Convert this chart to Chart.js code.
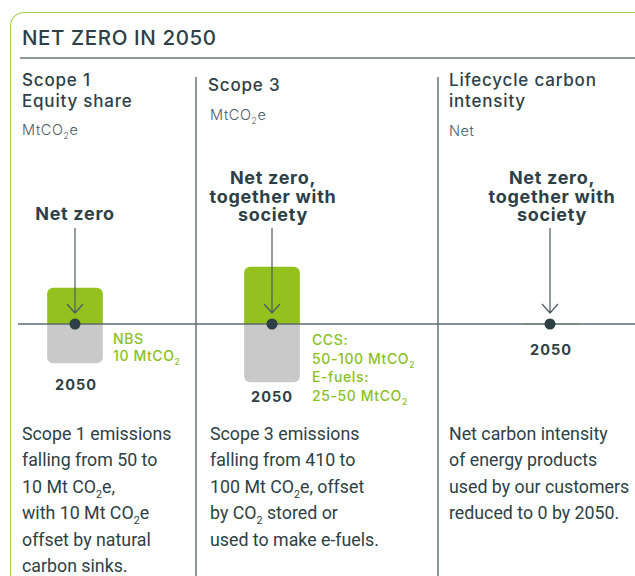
<!DOCTYPE html>
<html>
<head>
<meta charset="utf-8">
<script src="https://cdn.jsdelivr.net/npm/chart.js@4/dist/chart.umd.min.js"></script>
<style>
  html, body { margin: 0; padding: 0; background: #fff; }
  body { width: 635px; height: 576px; position: relative; overflow: hidden; color: #2e3f45; }
  .abs { position: absolute; white-space: nowrap; }
  .frame { left: 10px; top: 12px; width: 700px; height: 700px; border-top: 1.5px solid #a9cf4c; border-left: 1.5px solid #a9cf4c; border-top-left-radius: 14px; }
  .title { left: 22px; top: 27px; font: 500 20.5px/22px Inter, sans-serif; letter-spacing: 0.6px; }
  .rule { left: 20px; top: 57px; width: 620px; height: 1.5px; background: #8d9699; }
  .divider { top: 77px; width: 1.5px; height: 510px; background: #8d9699; }
  .head { font: 500 17px/21px Inter, sans-serif; letter-spacing: 0.8px; }
  .unit { font: 300 14.5px/18px Inter, sans-serif; color: #4a5a60; letter-spacing: 0.6px; }
  .unit sub, .desc sub, .note sub { font-size: 0.6em; line-height: 0; }
  .label { font: 700 18px/18.5px Inter, sans-serif; letter-spacing: 0.7px; text-align: center; transform: translateX(-50%); }
  .year { font: 700 14.5px/18px Inter, sans-serif; letter-spacing: 1px; transform: translateX(-50%); }
  .note { font: 500 14px/18.7px Inter, sans-serif; letter-spacing: 0.6px; color: #8cbf1f; }
  .desc { font: 400 17.8px/26.4px Roboto, sans-serif; }
  canvas { position: absolute; top: 140px; }
</style>
</head>
<body>
<div class="abs frame"></div>
<div class="abs title">NET ZERO IN 2050</div>
<div class="abs rule"></div>
<div class="abs divider" style="left:195px"></div>
<div class="abs divider" style="left:437px"></div>

<div class="abs head" style="left:22px;top:70px">Scope 1<br>Equity share</div>
<div class="abs unit" style="left:22px;top:121px">MtCO<sub>2</sub>e</div>
<div class="abs head" style="left:208px;top:75px">Scope 3</div>
<div class="abs unit" style="left:210px;top:106px">MtCO<sub>2</sub>e</div>
<div class="abs head" style="left:449px;top:70px">Lifecycle carbon<br>intensity</div>
<div class="abs unit" style="left:449px;top:122px">Net</div>

<div class="abs label" style="left:75px;top:205px">Net zero</div>
<div class="abs label" style="left:273px;top:169px">Net zero,<br>together with<br>society</div>
<div class="abs label" style="left:552px;top:169px">Net zero,<br>together with<br>society</div>

<div class="abs year" style="left:76px;top:376px">2050</div>
<div class="abs year" style="left:272px;top:388px">2050</div>
<div class="abs year" style="left:551px;top:341px">2050</div>

<div class="abs note" style="left:113px;top:331px;line-height:16.5px">NBS<br>10 MtCO<sub>2</sub></div>
<div class="abs note" style="left:312px;top:331px">CCS:<br>50-100 MtCO<sub>2</sub><br>E-fuels:<br>25-50 MtCO<sub>2</sub></div>

<div class="abs desc" style="left:22px;top:421px">Scope 1 emissions<br>falling from 50 to<br>10 Mt CO<sub>2</sub>e,<br>with 10 Mt CO<sub>2</sub>e<br>offset by natural<br>carbon sinks.</div>
<div class="abs desc" style="left:210px;top:421px">Scope 3 emissions<br>falling from 410 to<br>100 Mt CO<sub>2</sub>e, offset<br>by CO<sub>2</sub> stored or<br>used to make e-fuels.</div>
<div class="abs desc" style="left:449px;top:421px">Net carbon intensity<br>of energy products<br>used by our customers<br>reduced to 0 by 2050.</div>

<canvas id="c0" width="177" height="270" style="left:18px"></canvas>
<canvas id="c1" width="242" height="270" style="left:195px"></canvas>
<canvas id="c2" width="198" height="270" style="left:437px"></canvas>

<script>
// relative bar heights as drawn (illustrative, not to scale with the Mt figures)
const panels = ['Scope 1', 'Scope 3', 'Lifecycle carbon intensity'];
const residual = [36, 57, 0];     // green, above the zero line
const offsets = [-39, -58, 0];    // grey, below the zero line
const target = [0, 0, 0];         // net zero point in 2050
const yMin = -86;
const yMax = 184;

const green = '#95c11f';
const grey = '#c8c9c8';
const dark = '#2e3f45';
const lineGrey = '#5e6b70';

// padding puts each panel's bar where the infographic has it
const paddings = [
    { left: 0, right: 63 },
    { left: 0, right: 88 },
    { left: 28, right: 0 },
];

const zeroLine = {
    id: 'zeroLine',
    beforeDatasetDraw(chart, args) {
        if (args.meta.type !== 'line') return;
        const ctx = chart.ctx;
        const y = chart.scales.y.getPixelForValue(0);
        ctx.save();
        ctx.strokeStyle = lineGrey;
        ctx.lineWidth = 1.5;
        ctx.beginPath();
        ctx.moveTo(0, y);
        ctx.lineTo(chart.width, y);
        ctx.stroke();
        ctx.restore();
    },
    afterDatasetsDraw(chart) {
        // arrow from the label down to the point
        const ctx = chart.ctx;
        const x = chart.scales.x.getPixelForValue(0);
        const top = 228 - 140;
        const tip = chart.scales.y.getPixelForValue(0) - 11;
        ctx.save();
        ctx.strokeStyle = '#4d5c61';
        ctx.lineWidth = 1.2;
        ctx.beginPath();
        ctx.moveTo(x, top);
        ctx.lineTo(x, tip);
        ctx.moveTo(x - 8, tip - 9);
        ctx.lineTo(x, tip);
        ctx.lineTo(x + 8, tip - 9);
        ctx.stroke();
        ctx.restore();
    },
};

panels.forEach(function (name, i) {
    new Chart(document.getElementById('c' + i), {
        type: 'bar',
        data: {
            labels: [name],
            datasets: [
                {
                    data: [residual[i]],
                    backgroundColor: green,
                    borderRadius: 6,
                    barThickness: 55,
                    grouped: false,
                    order: 2,
                },
                {
                    data: [offsets[i]],
                    backgroundColor: grey,
                    borderRadius: 6,
                    barThickness: 55,
                    grouped: false,
                    order: 2,
                },
                {
                    type: 'line',
                    data: [target[i]],
                    showLine: false,
                    pointRadius: 5.5,
                    pointHoverRadius: 5.5,
                    pointBackgroundColor: dark,
                    pointBorderWidth: 0,
                    clip: false,
                    order: 1,
                },
            ],
        },
        options: {
            responsive: false,
            animation: false,
            devicePixelRatio: 1,
            layout: {
                autoPadding: false,
                padding: { left: paddings[i].left, right: paddings[i].right, top: 0, bottom: 0 },
            },
            plugins: { legend: { display: false }, tooltip: { enabled: false } },
            scales: {
                x: { display: false },
                y: { display: false, min: yMin, max: yMax },
            },
        },
        plugins: [zeroLine],
    });
});
</script>
</body>
</html>
